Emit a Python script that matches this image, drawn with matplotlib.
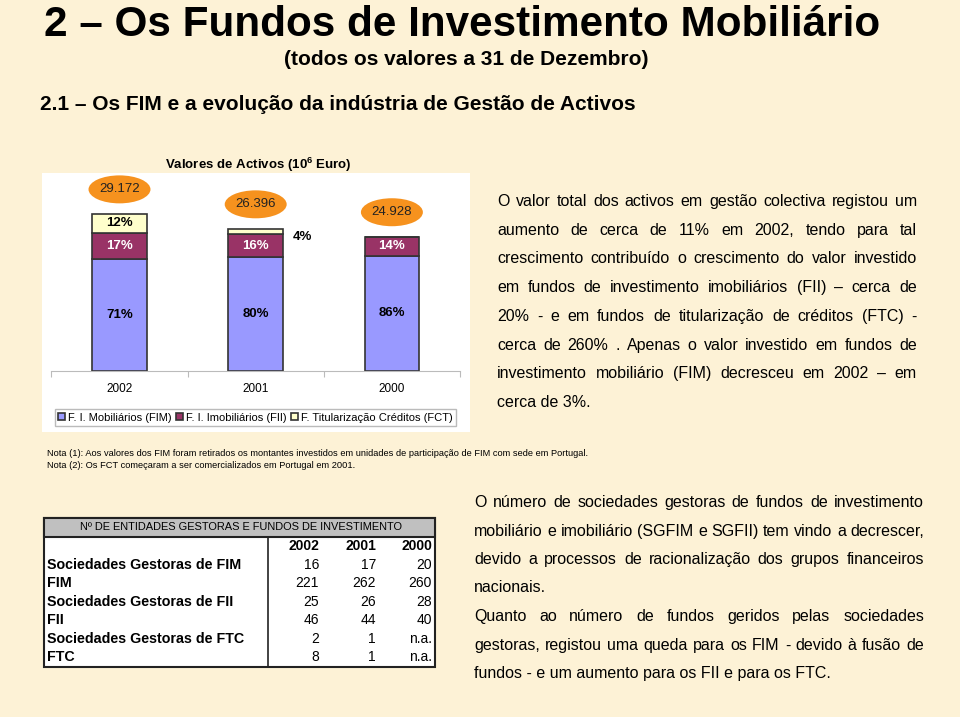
import math
import matplotlib
matplotlib.use('Agg')
import matplotlib.pyplot as plt
from matplotlib.patches import Rectangle, Ellipse
from matplotlib.lines import Line2D

plt.rcParams['font.family'] = ['Liberation Sans', 'DejaVu Sans']
plt.rcParams['mathtext.fontset'] = 'custom'
plt.rcParams['mathtext.rm'] = 'Liberation Sans'
plt.rcParams['mathtext.bf'] = 'Liberation Sans:bold'

# chart data
years = ['2002', '2001', '2000']
totals = [29172, 26396, 24928]
fim_pct = [71, 80, 86]
fii_pct = [17, 16, 14]
fct_pct = [12, 4, 0]
series_names = ['F. I. Mobiliários (FIM)', 'F. I. Imobiliários (FII)',
                'F. Titularização Créditos (FCT)']

# table data
table_title = 'Nº DE ENTIDADES GESTORAS E FUNDOS DE INVESTIMENTO'
table_rows = ['Sociedades Gestoras de FIM', 'FIM', 'Sociedades Gestoras de FII',
              'FII', 'Sociedades Gestoras de FTC', 'FTC']
table_2002 = ['16', '221', '25', '46', '2', '8']
table_2001 = ['17', '262', '26', '44', '1', '1']
table_2000 = ['20', '260', '28', '40', 'n.a.', 'n.a.']

para1 = [
    'O valor total dos activos em gestão colectiva registou um',
    'aumento de cerca de 11% em 2002, tendo para tal',
    'crescimento contribuído o crescimento do valor investido',
    'em fundos de investimento imobiliários (FII) – cerca de',
    '20% - e em fundos de titularização de créditos (FTC) -',
    'cerca de 260% .  Apenas o valor investido em fundos de',
    'investimento mobiliário (FIM) decresceu em 2002 – em',
    'cerca de 3%.',
]
para2 = [
    'O número de sociedades gestoras de fundos de investimento',
    'mobiliário e imobiliário (SGFIM e SGFII) tem vindo a decrescer,',
    'devido a processos de racionalização dos grupos financeiros',
    'nacionais.',
    'Quanto ao número de fundos geridos pelas sociedades',
    'gestoras, registou uma queda para os FIM - devido à fusão de',
    'fundos - e um aumento para os FII e para os FTC.',
]
para2_last = [3, 6]

notes = [
    'Nota (1): Aos valores dos FIM foram retirados os montantes investidos em '
    'unidades de participação de FIM com sede em Portugal.',
    'Nota (2): Os FCT começaram a ser comercializados em Portugal em 2001.',
]

BG = '#FDF2D6'
W, H = 960, 717
fig = plt.figure(figsize=(9.6, 7.17), dpi=100)
fig.patch.set_facecolor(BG)


def fx(x):
    return x / W


def fy(y):
    return 1 - y / H


def box(x0, y0, x1, y1, **kw):
    r = Rectangle((fx(x0), fy(y1)), (x1 - x0) / W, (y1 - y0) / H,
                  transform=fig.transFigure, **kw)
    fig.add_artist(r)
    return r


# titles
fig.text(fx(462), fy(36), '2 – Os Fundos de Investimento Mobiliário',
         fontsize=30.4, fontweight='bold', ha='center', va='baseline')
fig.text(fx(466), fy(65), '(todos os valores a 31 de Dezembro)',
         fontsize=15, fontweight='bold', ha='center', va='baseline')
fig.text(fx(40), fy(110), '2.1 – Os FIM e a evolução da indústria de Gestão de Activos',
         fontsize=15, fontweight='bold', ha='left', va='baseline')

# chart
box(42, 173, 470, 432, fc='white', ec='none', zorder=-1)
fig.text(fx(258), fy(165), r'Valores de Activos (10$^{\mathbf{6}}$ Euro)',
         fontsize=9.5, fontweight='bold', ha='center', va='center')

ax = fig.add_axes([fx(51.4), fy(371), 408.6 / W, 195 / H])
ax.set_facecolor('none')

xs = list(range(len(years)))
fim = [t * p / 100 for t, p in zip(totals, fim_pct)]
fii = [t * p / 100 for t, p in zip(totals, fii_pct)]
fct = [t * p / 100 for t, p in zip(totals, fct_pct)]
base2 = [a + b for a, b in zip(fim, fii)]

edge = '#333333'
b1 = ax.bar(xs, fim, width=0.4, color='#9999FF', edgecolor=edge, lw=1.2)
b2 = ax.bar(xs, fii, width=0.4, bottom=fim, color='#993366', edgecolor=edge, lw=1.2)
b3 = ax.bar(xs, fct, width=0.4, bottom=base2, color='#FFFFCC', edgecolor=edge, lw=1.2)

for i in xs:
    ax.text(i, fim[i] / 2, f'{fim_pct[i]}%', ha='center', va='center',
            fontsize=9.5, fontweight='bold', color='black')
    ax.text(i, fim[i] + fii[i] / 2, f'{fii_pct[i]}%', ha='center', va='center',
            fontsize=9.5, fontweight='bold', color='white')
    if fct_pct[i] >= 8:
        ax.text(i, base2[i] + fct[i] / 2, f'{fct_pct[i]}%', ha='center', va='center',
                fontsize=9.5, fontweight='bold', color='black')
    elif fct_pct[i] > 0:
        ax.annotate(f'{fct_pct[i]}%', (i + 0.345, base2[i] + fct[i] / 2),
                    xytext=(0, -4), textcoords='offset points', ha='center',
                    va='center', fontsize=9.5, fontweight='bold', color='black')
    cy = totals[i] + 4545
    ax.add_patch(Ellipse((i, cy), 0.455, 5194, fc='#F6921E', ec='none', clip_on=False))
    ax.text(i, cy, f'{totals[i]:,}'.replace(',', '.'), ha='center', va='center',
            fontsize=9.5, color='#222222')

ax.set_xlim(-0.5, 2.5)
ax.set_ylim(0, 36200)
ax.set_yticks([])
for s in ['top', 'right', 'left']:
    ax.spines[s].set_visible(False)
ax.spines['bottom'].set_color('#BBBBBB')
ax.set_xticks([-0.5, 0.5, 1.5, 2.5])
ax.set_xticklabels([])
ax.tick_params(axis='x', which='major', length=4, color='#BBBBBB', direction='out')
ax.set_xticks(xs, minor=True)
ax.set_xticklabels(years, minor=True, fontsize=8.5)
ax.tick_params(axis='x', which='minor', length=0, pad=9)

ax.legend([b1, b2, b3], series_names, ncol=3, loc='center',
          bbox_to_anchor=(fx(255.5), fy(417.5)), bbox_transform=fig.transFigure,
          fontsize=8, frameon=True, fancybox=False, edgecolor='#BBBBBB',
          framealpha=1, handlelength=0.6, handleheight=0.6, handletextpad=0.3,
          columnspacing=0.4, borderpad=0.3)

# notes
for k, n in enumerate(notes):
    fig.text(fx(47), fy(454 + 11 * k), n, fontsize=6.7, ha='left', va='center')

# table
box(44, 518, 435, 667, fc='white', ec='#222222', lw=1.5)
box(44, 518, 435, 537, fc='#C0C0C0', ec='#222222', lw=1.5)
fig.add_artist(Line2D([fx(268), fx(268)], [fy(537), fy(667)],
                      transform=fig.transFigure, color='#222222', lw=1.2))
fig.text(fx(241), fy(527.5), table_title, fontsize=7.9, ha='center', va='center')
col_x = [319, 376, 432]
for cx, yr in zip(col_x, years):
    fig.text(fx(cx), fy(546), yr, fontsize=10, fontweight='bold', ha='right', va='center')
for k, name in enumerate(table_rows):
    y = 565 + 18.4 * k
    fig.text(fx(47), fy(y), name, fontsize=10.3, fontweight='bold', ha='left', va='center')
    for cx, col in zip(col_x, [table_2002, table_2001, table_2000]):
        fig.text(fx(cx), fy(y), col[k], fontsize=10, ha='right', va='center')

# justified paragraphs: one text per word so the gaps can be stretched
renderer = fig.canvas.get_renderer()


def paragraph(lines, x0, x1, y_base, dy, size, left_lines):
    for k, line in enumerate(lines):
        y = round(y_base + dy * k)
        if k in left_lines:
            fig.text(fx(x0), fy(y), line, fontsize=size, ha='left', va='baseline')
            continue
        words = line.split()
        texts = [fig.text(0, fy(y), w, fontsize=size, ha='left', va='baseline')
                 for w in words]
        widths = [t.get_window_extent(renderer).width for t in texts]
        gap = (x1 - x0 - sum(widths)) / (len(words) - 1)
        x = x0
        for t, w, word in zip(texts, widths, words):
            # keep every word on the same pixel baseline (agg rounds by descent)
            d = renderer.get_text_width_height_descent(
                word, t.get_fontproperties(), ismath=False)[2]
            t.set_position((fx(x), fy(y + math.ceil(d) - d)))
            x += w + gap


paragraph(para1, 497, 917, 206, 28.7, 11.5, [len(para1) - 1])
paragraph(para2, 474, 924, 507, 28.5, 11.5, para2_last)

fig.savefig('out.png', dpi=100, facecolor=BG)
